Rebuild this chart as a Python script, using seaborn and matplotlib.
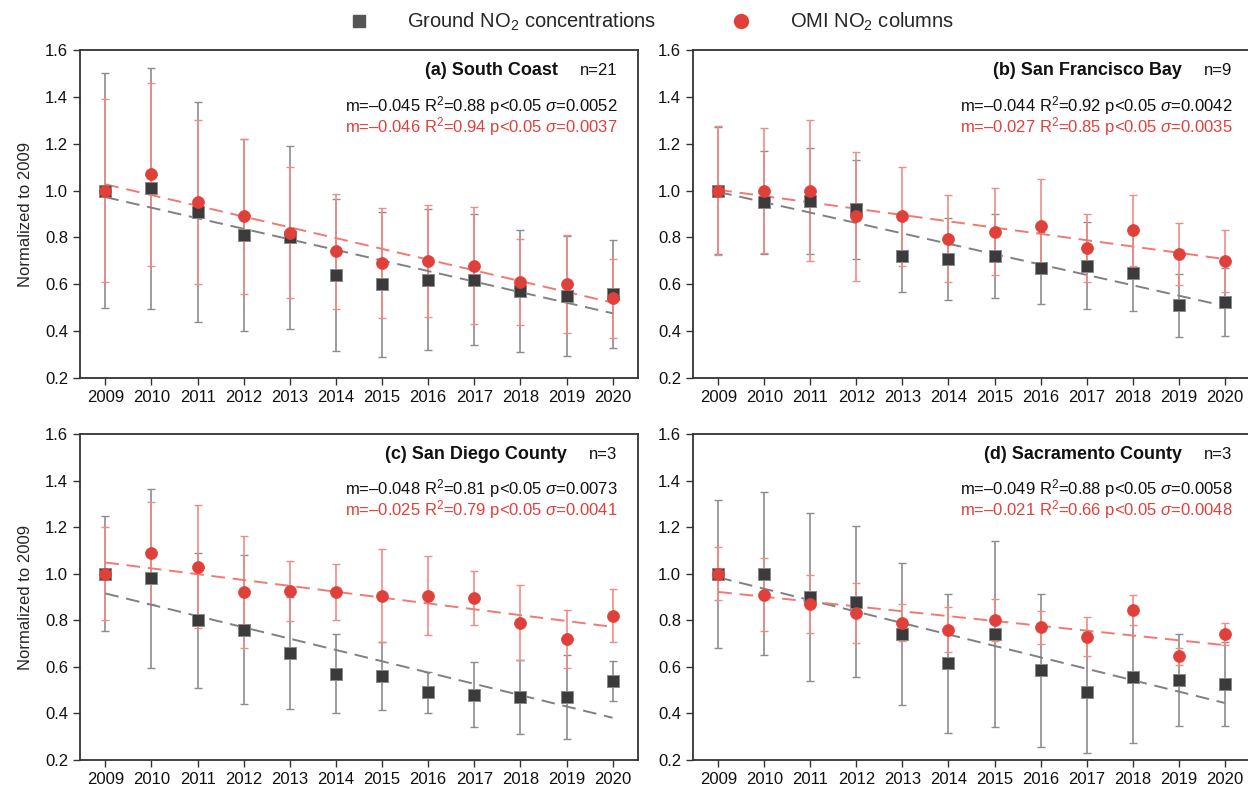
import numpy as np
import pandas as pd
import matplotlib
matplotlib.use("Agg")
import matplotlib.pyplot as plt
from matplotlib.lines import Line2D
import seaborn as sns

years = list(range(2009, 2021))

# (a) South Coast
ground_a = [1.00, 1.01, 0.91, 0.81, 0.80, 0.64, 0.60, 0.62, 0.62, 0.57, 0.55, 0.56]
ground_a_err = [0.50, 0.515, 0.47, 0.41, 0.39, 0.325, 0.31, 0.30, 0.28, 0.26, 0.255, 0.23]
omi_a = [1.00, 1.07, 0.95, 0.89, 0.82, 0.74, 0.69, 0.70, 0.68, 0.61, 0.60, 0.54]
omi_a_err = [0.39, 0.39, 0.35, 0.33, 0.28, 0.245, 0.235, 0.24, 0.25, 0.185, 0.21, 0.17]

# (b) San Francisco Bay
ground_b = [1.00, 0.95, 0.955, 0.92, 0.72, 0.71, 0.72, 0.67, 0.68, 0.65, 0.51, 0.525]
ground_b_err = [0.27, 0.22, 0.225, 0.21, 0.155, 0.175, 0.18, 0.155, 0.185, 0.163, 0.133, 0.144]
omi_b = [1.00, 1.00, 1.00, 0.89, 0.89, 0.795, 0.825, 0.85, 0.755, 0.83, 0.73, 0.70]
omi_b_err = [0.277, 0.265, 0.30, 0.275, 0.21, 0.185, 0.185, 0.20, 0.147, 0.15, 0.133, 0.133]

# (c) San Diego County
ground_c = [1.00, 0.98, 0.80, 0.76, 0.66, 0.57, 0.56, 0.49, 0.48, 0.47, 0.47, 0.54]
ground_c_err = [0.247, 0.385, 0.29, 0.32, 0.24, 0.17, 0.145, 0.09, 0.14, 0.16, 0.18, 0.087]
omi_c = [1.00, 1.09, 1.03, 0.92, 0.925, 0.92, 0.905, 0.905, 0.895, 0.79, 0.72, 0.82]
omi_c_err = [0.20, 0.22, 0.265, 0.24, 0.13, 0.12, 0.20, 0.17, 0.115, 0.16, 0.125, 0.115]

# (d) Sacramento County
ground_d = [1.00, 1.00, 0.90, 0.88, 0.74, 0.615, 0.74, 0.585, 0.49, 0.555, 0.545, 0.525]
ground_d_err = [0.317, 0.35, 0.36, 0.325, 0.305, 0.30, 0.40, 0.33, 0.26, 0.283, 0.198, 0.18]
omi_d = [1.00, 0.91, 0.87, 0.83, 0.79, 0.76, 0.80, 0.77, 0.73, 0.845, 0.645, 0.74]
omi_d_err = [0.115, 0.157, 0.125, 0.128, 0.078, 0.095, 0.09, 0.07, 0.082, 0.065, 0.038, 0.047]

titles = ["(a) South Coast", "(b) San Francisco Bay", "(c) San Diego County", "(d) Sacramento County"]
n_sites = ["n=21", "n=9", "n=3", "n=3"]
ground_stats = [
    r"m=–0.045 R$^2$=0.88 p<0.05 $\sigma$=0.0052",
    r"m=–0.044 R$^2$=0.92 p<0.05 $\sigma$=0.0042",
    r"m=–0.048 R$^2$=0.81 p<0.05 $\sigma$=0.0073",
    r"m=–0.049 R$^2$=0.88 p<0.05 $\sigma$=0.0058",
]
omi_stats = [
    r"m=–0.046 R$^2$=0.94 p<0.05 $\sigma$=0.0037",
    r"m=–0.027 R$^2$=0.85 p<0.05 $\sigma$=0.0035",
    r"m=–0.025 R$^2$=0.79 p<0.05 $\sigma$=0.0041",
    r"m=–0.021 R$^2$=0.66 p<0.05 $\sigma$=0.0048",
]

SQ = "#3b3b3b"
SQ_EDGE = "#8a8a8a"
GREY_ERR = "#8c8c8c"
GREY_LINE = "#808080"
RED = "#e0403a"
RED_ERR = "#f08c86"
RED_LINE = "#f07a72"
AX_COL = "#333333"

sns.set_style("ticks")
plt.rcParams['font.family'] = ['Liberation Sans', 'DejaVu Sans']
plt.rcParams['mathtext.fontset'] = 'custom'
plt.rcParams['mathtext.rm'] = 'Liberation Sans'
plt.rcParams['mathtext.it'] = 'Liberation Sans:italic'
plt.rcParams['mathtext.bf'] = 'Liberation Sans:bold'

fig = plt.figure(figsize=(12.48, 7.86), dpi=100)
W, H = 1248, 786
boxes = [(80, 50, 638, 378), (693, 50, 1250, 378),
         (80, 434, 638, 760), (693, 434, 1250, 760)]
panels = [
    (ground_a, ground_a_err, omi_a, omi_a_err),
    (ground_b, ground_b_err, omi_b, omi_b_err),
    (ground_c, ground_c_err, omi_c, omi_c_err),
    (ground_d, ground_d_err, omi_d, omi_d_err),
]

for i, (g, ge, o, oe) in enumerate(panels):
    x0, y0, x1, y1 = boxes[i]
    ax = fig.add_axes([x0 / W, 1 - y1 / H, (x1 - x0) / W, (y1 - y0) / H])

    ax.errorbar(years, g, yerr=ge, fmt='none', ecolor=GREY_ERR, elinewidth=1.2,
                capsize=3, capthick=1.0, zorder=1)
    ax.errorbar(years, o, yerr=oe, fmt='none', ecolor=RED_ERR, elinewidth=1.2,
                capsize=3, capthick=1.0, zorder=2)

    sns.regplot(x=years, y=g, scatter=False, ci=None, ax=ax, color=GREY_LINE,
                line_kws=dict(lw=1.4, dashes=(7, 4), zorder=3))
    sns.regplot(x=years, y=o, scatter=False, ci=None, ax=ax, color=RED_LINE,
                line_kws=dict(lw=1.4, dashes=(7, 4), zorder=3))

    dg = pd.DataFrame({"year": years, "value": g})
    do = pd.DataFrame({"year": years, "value": o})
    sns.scatterplot(data=dg, x="year", y="value", marker="s", s=66, color=SQ,
                    edgecolor=SQ_EDGE, linewidth=0.7, zorder=4, ax=ax)
    sns.scatterplot(data=do, x="year", y="value", marker="o", s=74, color=RED,
                    edgecolor=RED, linewidth=0.5, zorder=5, ax=ax)

    ax.set_xlim(2008.45, 2020.55)
    ax.set_ylim(0.2, 1.6)
    ax.set_xticks(years)
    ax.set_xticklabels([str(y) for y in years])
    ax.set_yticks(np.arange(0.2, 1.61, 0.2))
    ax.set_yticklabels([f"{v:.1f}" for v in np.arange(0.2, 1.61, 0.2)])
    ax.tick_params(direction='out', length=5, width=1.0, color=AX_COL,
                   labelsize=12, labelcolor="#111111")
    for sp in ax.spines.values():
        sp.set_visible(True)
        sp.set_color(AX_COL)
        sp.set_linewidth(1.3)
    ax.set_xlabel("")
    if i % 2 == 0:
        ax.set_ylabel("Normalized to 2009", fontsize=12, labelpad=9)
    else:
        ax.set_ylabel("")

    xr = 0.963 if i % 2 == 0 else 0.968
    nt = ax.text(xr, 0.937, n_sites[i], transform=ax.transAxes, ha='right',
                 va='center', fontsize=12, color="#111111")
    ax.annotate(titles[i], xy=(0, 0.5), xycoords=nt, xytext=(-16, 0),
                textcoords='offset points', ha='right', va='center',
                fontsize=13, fontweight='bold', color="#111111")
    ax.text(xr, 0.832, ground_stats[i], transform=ax.transAxes, ha='right',
            va='center', fontsize=12, color="#111111")
    ax.text(xr, 0.767, omi_stats[i], transform=ax.transAxes, ha='right',
            va='center', fontsize=12, color=RED)

handles = [
    Line2D([], [], marker='s', ls='none', color="#555555", markersize=9),
    Line2D([], [], marker='o', ls='none', color=RED, markersize=10),
]
labels = [r"Ground NO$_2$ concentrations", r"OMI NO$_2$ columns"]
fig.legend(handles, labels, loc='center', bbox_to_anchor=(0.518, 0.972), ncol=2,
           frameon=False, fontsize=14.5, columnspacing=3.2, handletextpad=1.4)

fig.savefig("out.png", dpi=100)
